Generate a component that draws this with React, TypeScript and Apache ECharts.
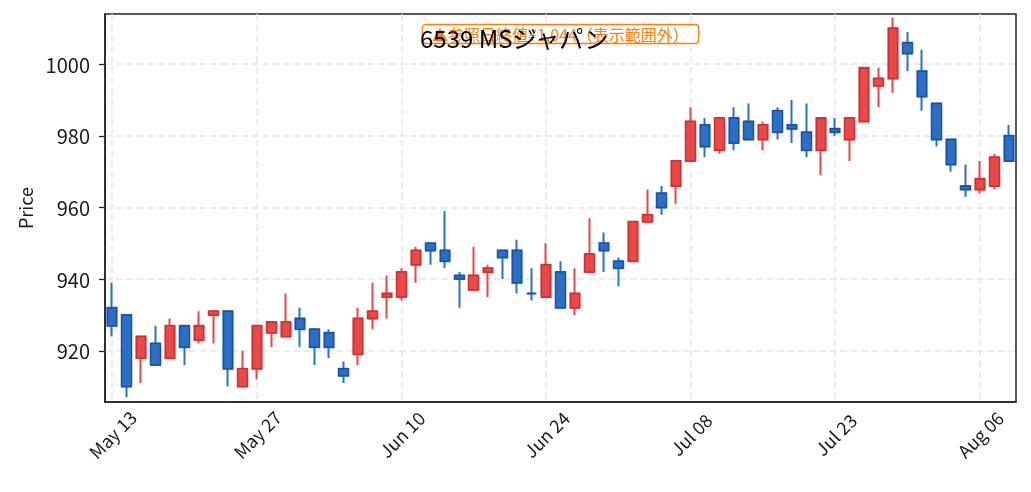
import React, { useEffect, useRef } from "react";
import * as echarts from "echarts";

const dates = [
  "May 13", "May 14", "May 15", "May 16", "May 19", "May 20", "May 21", "May 22", "May 23",
  "May 26", "May 27", "May 28", "May 29", "May 30",
  "Jun 02", "Jun 03", "Jun 04", "Jun 05", "Jun 06",
  "Jun 09", "Jun 10", "Jun 11", "Jun 12", "Jun 13",
  "Jun 16", "Jun 17", "Jun 18", "Jun 19", "Jun 20",
  "Jun 23", "Jun 24", "Jun 25", "Jun 26", "Jun 27",
  "Jun 30", "Jul 01", "Jul 02", "Jul 03", "Jul 04",
  "Jul 07", "Jul 08", "Jul 09", "Jul 10", "Jul 11",
  "Jul 14", "Jul 15", "Jul 16", "Jul 17", "Jul 18",
  "Jul 22", "Jul 23", "Jul 24", "Jul 25",
  "Jul 28", "Jul 29", "Jul 30", "Jul 31", "Aug 01",
  "Aug 04", "Aug 05", "Aug 06", "Aug 07", "Aug 08",
];

const open = [
  932, 930, 918, 922, 918, 927, 923, 930, 931, 910,
  915, 925, 924, 929, 926, 925, 915, 919, 929, 935,
  935, 944, 950, 948, 941, 937, 942, 948, 948, 936,
  935, 942, 932, 942, 950, 945, 945, 956, 964, 966,
  973, 983, 976, 985, 984, 979, 987, 983, 981, 976,
  982, 979, 984, 994, 996, 1006, 998, 989, 979, 966,
  965, 966, 980,
];
const close = [
  927, 910, 924, 916, 927, 921, 927, 931, 915, 915,
  927, 928, 928, 926, 921, 921, 913, 929, 931, 936,
  942, 948, 948, 945, 940, 941, 943, 946, 939, 936,
  944, 932, 936, 947, 948, 943, 956, 958, 960, 973,
  984, 977, 985, 978, 979, 983, 981, 982, 976, 985,
  981, 985, 999, 996, 1010, 1003, 991, 979, 972, 965,
  968, 974, 973,
];
const low = [
  924, 907, 911, 916, 918, 916, 922, 922, 910, 910,
  912, 921, 924, 921, 916, 918, 911, 916, 926, 929,
  934, 939, 944, 943, 932, 937, 935, 940, 936, 934,
  935, 932, 930, 942, 942, 938, 945, 956, 958, 961,
  973, 974, 975, 976, 979, 976, 979, 978, 974, 969,
  980, 973, 984, 988, 992, 998, 987, 977, 970, 963,
  964, 965, 973,
];
const high = [
  939, 930, 924, 927, 929, 927, 931, 931, 931, 920,
  927, 928, 936, 932, 926, 926, 917, 932, 939, 941,
  943, 949, 950, 959, 942, 949, 944, 948, 951, 943,
  950, 945, 943, 957, 953, 946, 956, 965, 966, 973,
  988, 985, 985, 988, 989, 984, 988, 990, 989, 985,
  985, 985, 999, 999, 1013, 1009, 1004, 989, 979, 972,
  973, 975, 983,
];

const yTicks = [920, 940, 960, 980, 1000];
const yMin = 905.7;
const yMax = 1014;
const titleText = "6539 MSジャパン";
const noteText = "▲参照日終値¥1,044（表示範囲外）";
const yName = "Price";

export default function App() {
  const ref = useRef<HTMLDivElement>(null);
  useEffect(() => {
    if (!ref.current) return;
    const chart = echarts.init(ref.current, null, { renderer: "svg" });
    const font = "Noto Sans CJK JP";
    const wickData = dates.map((_, i) => [open[i], close[i], low[i], high[i]]);
    const bodyData = dates.map((_, i) => [
      open[i],
      close[i],
      Math.min(open[i], close[i]),
      Math.max(open[i], close[i]),
    ]);
    const grid = { color: "#e6e6e6", type: [7, 3.5], width: 1.5 };
    chart.setOption({
      animation: false,
      textStyle: { fontFamily: font },
      title: [
        {
          text: noteText,
          left: 422,
          top: 24,
          padding: [2, 10],
          borderColor: "#ff7f0e",
          borderWidth: 1.3,
          borderRadius: 3,
          backgroundColor: "#ffffff",
          textStyle: { color: "#ff7f0e", fontSize: 16, fontWeight: "normal", lineHeight: 16, fontFamily: font },
        },
        {
          text: titleText,
          left: 420,
          top: 25,
          padding: 0,
          textStyle: { color: "#000", fontSize: 24, fontWeight: "normal", lineHeight: 24, fontFamily: font },
        },
      ],
      grid: {
        left: 105,
        right: 15,
        top: 14,
        bottom: 90,
        show: true,
        borderColor: "#222",
        borderWidth: 1.5,
      },
      xAxis: {
        type: "category",
        data: dates,
        boundaryGap: true,
        axisLine: { lineStyle: { color: "#222", width: 1.5 } },
        axisTick: { interval: 9, alignWithLabel: true, length: 6, lineStyle: { color: "#222", width: 1.3 } },
        axisLabel: {
          interval: 9,
          rotate: 45,
          align: "center",
          verticalAlign: "middle",
          margin: 32,
          fontSize: 18,
          color: "#1a1a1a",
          fontFamily: font,
        },
        splitLine: { show: true, interval: 9, alignWithLabel: true, lineStyle: grid },
      },
      yAxis: {
        type: "value",
        min: yMin,
        max: yMax,
        name: yName,
        nameLocation: "middle",
        nameGap: 71,
        nameTextStyle: { fontSize: 18, color: "#1a1a1a", fontFamily: font },
        axisLine: { show: true, lineStyle: { color: "#222", width: 1.5 } },
        axisTick: { show: true, customValues: yTicks, length: 6, lineStyle: { color: "#222", width: 1.3 } },
        axisLabel: {
          customValues: yTicks,
          margin: 15,
          fontSize: 20,
          color: "#1a1a1a",
          fontFamily: font,
          formatter: (v: number) => String(Math.round(v)),
        },
        splitLine: { show: true, lineStyle: grid },
      },
      series: [
        {
          type: "candlestick",
          data: wickData,
          barWidth: 9,
          silent: true,
          itemStyle: {
            color: "#e8474a",
            color0: "#2a70c8",
            borderColor: "#e8474a",
            borderColor0: "#2a70c8",
            borderWidth: 2,
          },
        },
        {
          type: "candlestick",
          data: bodyData,
          barWidth: 10,
          silent: true,
          itemStyle: {
            color: "#e84a4a",
            color0: "#2b6fc6",
            borderColor: "#cc3033",
            borderColor0: "#1c51a3",
            borderWidth: 1.5,
          },
        },
      ],
    });
    return () => chart.dispose();
  }, []);
  return <div ref={ref} style={{ position: "fixed", left: 0, top: 0, width: 1031, height: 492 }} />;
}
